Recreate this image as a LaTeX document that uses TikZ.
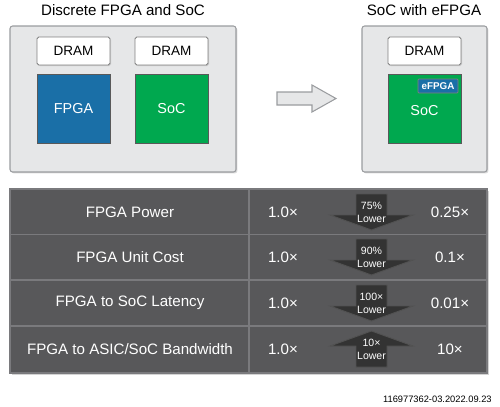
\documentclass[tikz,border=0pt]{standalone}
\usepackage{fontspec}
\setmainfont{Liberation Sans}
\usepackage{tikz}
\usetikzlibrary{positioning,shadows}

\definecolor{panelgray}{HTML}{E6E7E8}
\definecolor{edgegray}{HTML}{9A9C9F}
\definecolor{fpgablue}{HTML}{1A6FA7}
\definecolor{socgreen}{HTML}{00A84F}
\definecolor{tablegray}{HTML}{58585A}
\definecolor{linegray}{HTML}{7A7A7D}
\definecolor{arrowdark}{HTML}{333333}

\newcommand{\pxu}{0.02cm}

\begin{document}
\begin{tikzpicture}[x=0.02cm, y=-0.02cm,
    panel/.style={draw=edgegray, fill=panelgray, rounded corners=1.5pt, line width=0.6pt,
        drop shadow={opacity=0.3, shadow xshift=0.8pt, shadow yshift=-0.8pt}},
    drambox/.style={draw=gray, fill=white, rounded corners=1pt, line width=0.5pt,
        minimum width=73*\pxu, minimum height=28*\pxu, font=\fontsize{7.7}{9}\selectfont,
        drop shadow={opacity=0.25, shadow xshift=0.6pt, shadow yshift=-0.6pt}},
    chip/.style={draw=gray!70!black, line width=0.4pt, text=white,
        minimum width=73*\pxu, minimum height=69*\pxu, font=\fontsize{8.2}{10}\selectfont,
        drop shadow={opacity=0.3, shadow xshift=0.8pt, shadow yshift=-0.8pt}},
    heading/.style={font=\fontsize{8.6}{10}\selectfont, anchor=base},
    cell/.style={text=white, font=\fontsize{8.6}{10}\selectfont},
    small/.style={text=white, font=\fontsize{6}{6.5}\selectfont, inner sep=0pt},
]
    \useasboundingbox (0,0) rectangle (500,406);

    % Discrete FPGA and SoC
    \node[heading] (ttlA) at (123,15) {Discrete FPGA and SoC};
    \node[panel, minimum width=226*\pxu, minimum height=146*\pxu] (boxA) at (123,99) {};
    \node[drambox] (dramA) at (73.5,51) {DRAM};
    \node[drambox] (dramB) at (171.5,51) {DRAM};
    \node[chip, fill=fpgablue] (fpga) at (73.5,108.5) {FPGA};
    \node[chip, fill=socgreen] (socA) at (171.5,108.5) {SoC};

    % Block arrow
    \draw[edgegray, fill=panelgray, line width=0.6pt]
        (277,92) -- (312,92) -- (312,85) -- (336,98.5) -- (312,112) -- (312,105) -- (277,105) -- cycle;

    % SoC with eFPGA
    \node[heading] (ttlB) at (424,15) {SoC with eFPGA};
    \node[panel, minimum width=125*\pxu, minimum height=146*\pxu] (boxB) at (424.5,99) {};
    \node[drambox] (dramC) at (424.5,51) {DRAM};
    \node[chip, fill=socgreen] (socB) at (424.5,108.5) {\raisebox{-8pt}{SoC}};
    \node[draw=gray, fill=fpgablue, text=white, line width=0.4pt, rounded corners=0.5pt,
        minimum width=40*\pxu, minimum height=14*\pxu, inner sep=0pt,
        font=\bfseries\fontsize{5.6}{6}\selectfont] (efpga) at (438,86) {eFPGA};

    % Comparison table
    \node[draw=linegray, fill=tablegray, line width=0.6pt, minimum width=477*\pxu, minimum height=184*\pxu,
        drop shadow={opacity=0.35, shadow xshift=1pt, shadow yshift=-1pt}] (tbl) at (248.5,281) {};
    \foreach \y in {234.5,280,326} {
        \draw[linegray, line width=0.8pt] (10,\y) -- (487,\y);
    }
    \draw[linegray, line width=0.6pt] (249,189) -- (249,373);

    \foreach \i/\cy/\lbl/\new/\pct/\dir in {
        1/212/{FPGA Power}/{0.25×}/{75\%}/1,
        2/257/{FPGA Unit Cost}/{0.1×}/{90\%}/1,
        3/303/{FPGA to SoC Latency}/{0.01×}/{100×}/1,
        4/349/{FPGA to ASIC/SoC Bandwidth}/{10×}/{10×}/-1} {
        \node[cell] (lbl\i) at (130,\cy) {\lbl};
        \node[cell] (old\i) at (283,\cy) {1.0×};
        \node[cell] (new\i) at (450,\cy) {\new};
        \draw[arrowdark!60!gray, fill=arrowdark, line width=0.5pt]
            (356,\cy-18*\dir) -- (387,\cy-18*\dir) -- (387,\cy+3*\dir) -- (413,\cy+3*\dir)
            -- (371.5,\cy+18*\dir) -- (330,\cy+3*\dir) -- (356,\cy+3*\dir) -- cycle;
        \node[small] (pct\i) at (371.5,\cy-6.5) {\pct};
        \node[small] (low\i) at (371.5,\cy+7) {Lower};
    }

    % Figure number
    \node[font=\fontsize{5.3}{6}\selectfont, anchor=east, inner sep=0pt] (fignum) at (492,399) {116977362-03.2022.09.23};
\end{tikzpicture}
\end{document}
